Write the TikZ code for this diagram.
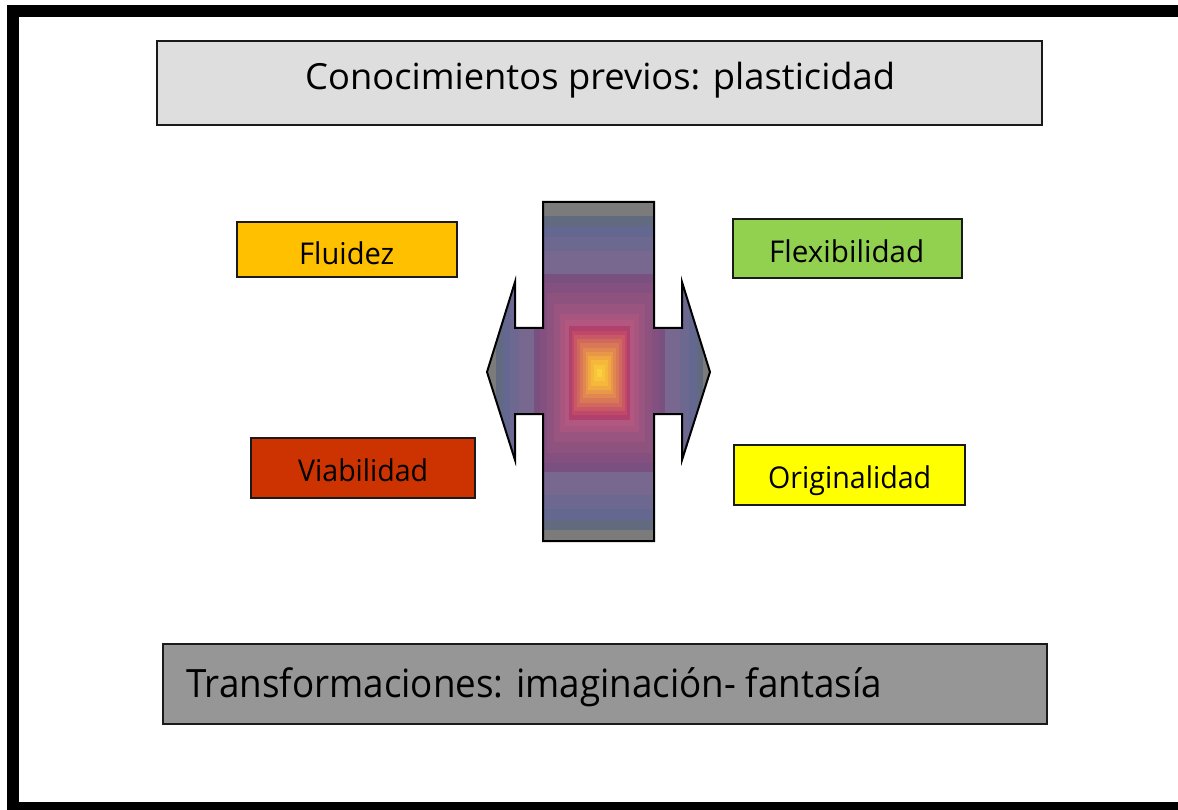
\documentclass[tikz,border=0pt]{standalone}
\usepackage{fontspec}
\usepackage{graphicx}
\setmainfont{Open Sans}
\newsavebox\fitbox
\newcommand\fitto[3]{\sbox\fitbox{\fontsize{#2}{#2}\selectfont #3}\pgfmathsetmacro\fitsx{#1/\the\wd\fitbox}\scalebox{\fitsx}[1]{\usebox\fitbox}}
\definecolor{titlegray}{HTML}{DEDEDE}
\definecolor{bottomgray}{HTML}{969696}
\definecolor{fluorange}{HTML}{FFC000}
\definecolor{viared}{HTML}{CC3300}
\definecolor{flexgreen}{HTML}{92D050}
\definecolor{origyellow}{HTML}{FFFF00}
\definecolor{edgeline}{HTML}{1A1A1A}
\tikzset{
  box/.style={draw=edgeline, line width=1.8pt, inner sep=0pt, rectangle},
  lbl/.style={anchor=base west, inner sep=0pt, text=black},
}
\begin{document}
\begin{tikzpicture}[x=1pt,y=-1pt]
\useasboundingbox (0,0) rectangle (1178,810);
\fill[white] (-40,-40) rectangle (1260,850);
% frame (left, top and bottom sides visible; right side beyond the page)
\draw[line width=12pt, black] (1260,11) -- (13,11) -- (13,808) -- (1260,808);
% boxes
\node[box, fill=titlegray, minimum width=885pt, minimum height=84pt] (title) at (599.5,83) {};
\node[box, fill=bottomgray, minimum width=884pt, minimum height=80pt] (bottom) at (605,684) {};
\node[box, fill=fluorange, minimum width=220pt, minimum height=55pt] (flu) at (347,249.5) {};
\node[box, fill=viared, minimum width=224pt, minimum height=60pt] (via) at (363,468) {};
\node[box, fill=flexgreen, minimum width=229pt, minimum height=59pt] (flex) at (847.5,248.5) {};
\node[box, fill=origyellow, minimum width=231pt, minimum height=60pt] (orig) at (849.5,475) {};
% texts
\node[lbl] (titletxt) at (305,90) {\fitto{590}{36}{Conocimientos previos: plasticidad}};
\node[lbl] (bottomtxt) at (186,697) {\fitto{696}{39}{Transformaciones: imaginación- fantasía}};
\node[lbl] (flutxt) at (299,265) {\fitto{95}{30}{Fluidez}};
\node[lbl] (viatxt) at (298,481) {\fitto{130}{30}{Viabilidad}};
\node[lbl] (flextxt) at (769,263) {\fitto{155}{30}{Flexibilidad}};
\node[lbl] (origtxt) at (768,488) {\fitto{163}{30}{Originalidad}};
% cross arrow with rectangular gradient
\begin{scope}
\clip (543,202) -- (654,202) -- (654,328) -- (682,328) -- (682,282) -- (710,372) -- (682,460) -- (682,414) -- (654,414) -- (654,541) -- (543,541) -- (543,414) -- (515,414) -- (515,460) -- (487,372) -- (515,282) -- (515,328) -- (543,328) -- cycle;
\foreach \t/\c in {1.10/7B7B7B, 0.925/626A80, 0.87/646890, 0.80/6C6890, 0.72/786890,
  0.585/7A5080, 0.53/83507F, 0.47/8E527F, 0.41/9A5480, 0.35/A85680, 0.31/B25880,
  0.275/B0406E, 0.25/C04868, 0.225/C85866, 0.20/D0685E, 0.175/D87856, 0.15/E08850,
  0.125/E89848, 0.10/F0A840, 0.075/F5B83C, 0.05/F8C43A, 0.025/FCD040}{
  \definecolor{gband}{HTML}{\c}
  \fill[gband] ({599.5-\t*111.5},{373-\t*169.5}) rectangle ({599.5+\t*111.5},{373+\t*169.5});
}
\end{scope}
\draw[line width=2pt, black, line join=miter] (543,202) -- (654,202) -- (654,328) -- (682,328) -- (682,282) -- (710,372) -- (682,460) -- (682,414) -- (654,414) -- (654,541) -- (543,541) -- (543,414) -- (515,414) -- (515,460) -- (487,372) -- (515,282) -- (515,328) -- (543,328) -- cycle;
\end{tikzpicture}
\end{document}
